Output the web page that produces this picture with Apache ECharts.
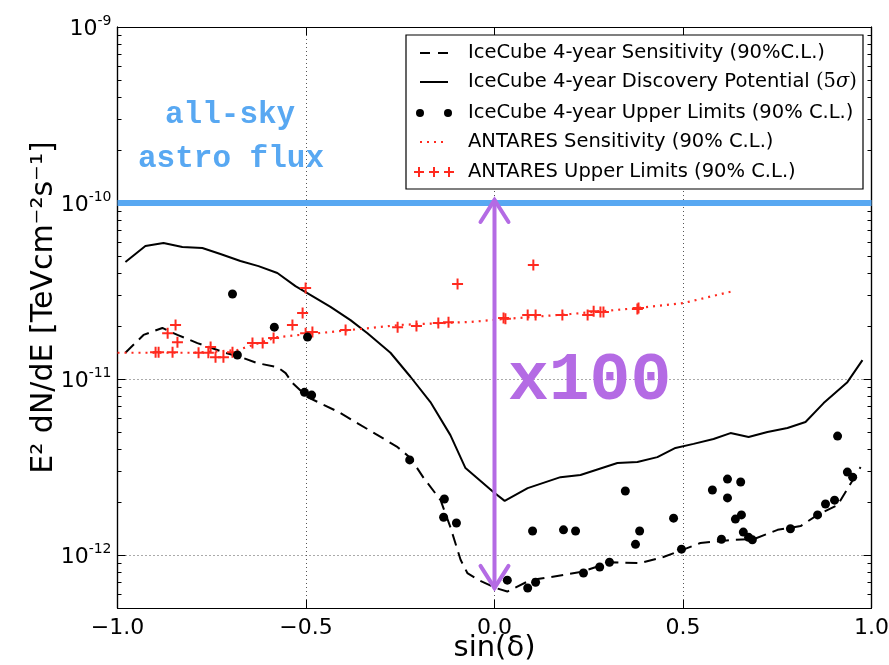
<!DOCTYPE html>
<html><head><meta charset="utf-8">
<script src="https://cdn.jsdelivr.net/npm/echarts@6/dist/echarts.min.js"></script>
<style>html,body{margin:0;padding:0;background:#fff}#c{width:889px;height:665px}</style>
</head><body><div id="c"></div>
<script>
// ---- data (x = sin(delta), y = E^2 dN/dE in TeV cm^-2 s^-1) ----
const icSensitivity = [[-0.979,1.41e-11],[-0.931,1.78e-11],[-0.881,1.95e-11],[-0.841,1.78e-11],[-0.788,1.60e-11],[-0.714,1.41e-11],[-0.668,1.32e-11],[-0.629,1.23e-11],[-0.576,1.17e-11],[-0.554,1.08e-11],[-0.536,9.5e-12],[-0.496,7.9e-12],[-0.414,6.5e-12],[-0.363,5.6e-12],[-0.310,4.8e-12],[-0.257,4.1e-12],[-0.223,3.56e-12],[-0.188,2.74e-12],[-0.143,2.05e-12],[-0.117,1.44e-12],[-0.090,9.4e-13],[-0.072,7.9e-13],[-0.042,7.2e-13],[0.003,6.5e-13],[0.034,6.2e-13],[0.095,7.2e-13],[0.149,7.5e-13],[0.228,8.0e-13],[0.308,9.1e-13],[0.387,9.0e-13],[0.448,9.75e-13],[0.499,1.07e-12],[0.546,1.17e-12],[0.634,1.22e-12],[0.687,1.23e-12],[0.751,1.39e-12],[0.812,1.46e-12],[0.857,1.69e-12],[0.910,1.92e-12],[0.971,3.16e-12]];
const icDiscovery = [[-0.979,4.62e-11],[-0.926,5.70e-11],[-0.878,5.93e-11],[-0.828,5.62e-11],[-0.775,5.55e-11],[-0.727,5.13e-11],[-0.674,4.68e-11],[-0.626,4.38e-11],[-0.576,4.0e-11],[-0.528,3.37e-11],[-0.483,2.96e-11],[-0.435,2.57e-11],[-0.382,2.16e-11],[-0.337,1.82e-11],[-0.276,1.41e-11],[-0.223,1.03e-11],[-0.170,7.4e-12],[-0.117,4.8e-12],[-0.077,3.12e-12],[-0.003,2.28e-12],[0.027,2.03e-12],[0.088,2.40e-12],[0.175,2.77e-12],[0.228,2.85e-12],[0.326,3.33e-12],[0.379,3.38e-12],[0.432,3.6e-12],[0.480,4.06e-12],[0.528,4.28e-12],[0.581,4.56e-12],[0.626,4.93e-12],[0.674,4.68e-12],[0.724,5.0e-12],[0.777,5.27e-12],[0.825,5.70e-12],[0.873,7.3e-12],[0.936,9.6e-12],[0.976,1.28e-11]];
const icUpperLimits = [[-0.695,3.04e-11],[-0.584,1.97e-11],[-0.496,1.73e-11],[-0.682,1.37e-11],[-0.504,8.4e-12],[-0.485,8.1e-12],[-0.225,3.47e-12],[-0.133,2.08e-12],[-0.135,1.64e-12],[-0.101,1.52e-12],[0.034,7.2e-13],[0.088,6.5e-13],[0.109,7.0e-13],[0.101,1.37e-12],[0.183,1.39e-12],[0.215,1.37e-12],[0.236,7.9e-13],[0.279,8.55e-13],[0.305,9.1e-13],[0.347,2.31e-12],[0.385,1.37e-12],[0.374,1.15e-12],[0.475,1.62e-12],[0.496,1.08e-12],[0.578,2.34e-12],[0.618,2.70e-12],[0.653,2.60e-12],[0.618,2.11e-12],[0.655,1.69e-12],[0.639,1.60e-12],[0.602,1.23e-12],[0.660,1.35e-12],[0.674,1.26e-12],[0.684,1.22e-12],[0.785,1.41e-12],[0.857,1.69e-12],[0.878,1.95e-12],[0.902,2.05e-12],[0.910,4.74e-12],[0.936,2.96e-12],[0.950,2.77e-12]];
const antSensitivity = [[-1.0,1.41e-11],[-0.798,1.41e-11],[-0.682,1.46e-11],[-0.576,1.73e-11],[-0.469,1.82e-11],[-0.249,2.03e-11],[-0.064,2.11e-11],[0.024,2.19e-11],[0.202,2.34e-11],[0.379,2.53e-11],[0.501,2.70e-11],[0.634,3.16e-11]];
const antUpperLimits = [[-0.899,1.42e-11],[-0.891,1.42e-11],[-0.854,1.42e-11],[-0.846,2.03e-11],[-0.867,1.82e-11],[-0.841,1.62e-11],[-0.785,1.41e-11],[-0.759,1.41e-11],[-0.753,1.52e-11],[-0.740,1.33e-11],[-0.719,1.33e-11],[-0.695,1.42e-11],[-0.642,1.60e-11],[-0.615,1.60e-11],[-0.586,1.71e-11],[-0.536,2.03e-11],[-0.509,2.37e-11],[-0.501,3.29e-11],[-0.501,1.82e-11],[-0.483,1.85e-11],[-0.395,1.90e-11],[-0.257,1.97e-11],[-0.207,2.0e-11],[-0.149,2.08e-11],[-0.122,2.10e-11],[-0.098,3.47e-11],[0.024,2.22e-11],[0.029,2.2e-11],[0.088,2.31e-11],[0.109,2.31e-11],[0.103,4.45e-11],[0.180,2.31e-11],[0.247,2.31e-11],[0.263,2.43e-11],[0.281,2.40e-11],[0.289,2.40e-11],[0.379,2.50e-11],[0.382,2.53e-11]];
const allSkyFlux = 1e-10;
const allSkyRange = [-1, 1];
const arrowRange = [1.04e-10, 6.5e-13];
const xTickValues = [-1, -0.5, 0, 0.5, 1];
const yMajorExponents = [-12, -11, -10, -9];
const yRange = [5e-13, 1e-9];
const legendLabels = ['IceCube 4-year Sensitivity (90%C.L.)','IceCube 4-year Discovery Potential ','IceCube 4-year Upper Limits (90% C.L.)','ANTARES Sensitivity (90% C.L.)','ANTARES Upper Limits (90% C.L.)'];

(function () {
const L = Math.log10;
const toLog = arr => arr.map(p => [p[0], L(p[1])]);
const yMin = L(yRange[0]), yMax = L(yRange[1]);
const minorTicks = [];
for (let n = -13; n <= -10; n++) for (let k = 2; k <= 9; k++) { const v = L(k) + n; if (v > yMin && v < yMax) minorTicks.push(v); }

const FONT = 'DejaVu Sans';
const RED = '#ff2a1f', BLUE = '#58a8f2', PURPLE = '#b46be4';
const gridLine = {show: true, lineStyle: {color: '#555', type: [1, 3], width: 1}};
const baseY = (pos, custom, len, labels, split) => ({
  type: 'value', position: pos, min: yMin, max: yMax, gridIndex: 0,
  axisLine: {show: true, onZero: false, lineStyle: {color: '#000', width: 1.2}},
  axisTick: {show: true, inside: true, length: len, customValues: custom, lineStyle: {color: '#000', width: 1}},
  axisLabel: labels ? {show: true, customValues: yMajorExponents, margin: 6,
      formatter: v => '{b|10}{s|' + Math.round(v) + '}',
      rich: {b: {fontSize: 22, fontFamily: FONT, color: '#000', lineHeight: 26, verticalAlign: 'bottom'},
             s: {fontSize: 14, fontFamily: FONT, color: '#000', lineHeight: 26, verticalAlign: 'top', padding: [0, 0, 8, 0]}}}
    : {show: false},
  splitLine: split ? gridLine : {show: false}
});

const chart = echarts.init(document.getElementById('c'), null, {renderer: 'canvas'});
const option = {
  animation: false,
  backgroundColor: '#fff',
  grid: {left: 117.5, right: 17.5, top: 27, bottom: 57, containLabel: false, outerBoundsMode: 'none'},
  xAxis: [
    {type: 'value', position: 'bottom', min: -1, max: 1, interval: 0.5,
     name: 'sin(δ)', nameLocation: 'middle', nameGap: 26, nameMoveOverlap: false,
     nameTextStyle: {fontSize: 29, fontFamily: FONT, color: '#000', verticalAlign: 'top'},
     axisLine: {show: true, onZero: false, lineStyle: {color: '#000', width: 1.2}},
     axisTick: {show: true, inside: true, length: 8, lineStyle: {color: '#000'}},
     axisLabel: {show: true, margin: 9, fontSize: 22, fontFamily: FONT, color: '#000',
       formatter: v => (v < 0 ? '\u2212' : '') + Math.abs(v).toFixed(1)},
     splitLine: gridLine},
    {type: 'value', position: 'top', min: -1, max: 1, interval: 0.5,
     axisLine: {show: true, onZero: false, lineStyle: {color: '#000', width: 1.2}},
     axisTick: {show: true, inside: true, length: 8, lineStyle: {color: '#000'}},
     axisLabel: {show: false}, splitLine: {show: false}}
  ],
  yAxis: [
    Object.assign(baseY('left', yMajorExponents, 8, true, true), {
      name: 'E² dN/dE [TeVcm⁻²s⁻¹]', nameLocation: 'middle', nameGap: 58, nameMoveOverlap: false,
      nameTextStyle: {fontSize: 30, fontFamily: FONT, color: '#000', padding: [0, 0, 0, 20]}}),
    baseY('left', minorTicks, 4, false, false),
    baseY('right', yMajorExponents, 8, false, false),
    baseY('right', minorTicks, 4, false, false)
  ],
  series: [
    {type: 'line', name: 'allsky', data: [[allSkyRange[0], L(allSkyFlux)], [allSkyRange[1], L(allSkyFlux)]],
     symbol: 'none', lineStyle: {color: BLUE, width: 6}, z: 3, silent: true},
    {type: 'line', name: legendLabels[0], data: toLog(icSensitivity), symbol: 'none',
     lineStyle: {color: '#000', width: 2, type: [12, 7]}, z: 4},
    {type: 'line', name: legendLabels[1], data: toLog(icDiscovery), symbol: 'none',
     lineStyle: {color: '#000', width: 2}, z: 4},
    {type: 'line', name: legendLabels[3], data: toLog(antSensitivity), symbol: 'none',
     lineStyle: {color: RED, width: 2.2, type: [2, 5]}, z: 4},
    {type: 'scatter', name: legendLabels[4], data: toLog(antUpperLimits),
     symbol: 'path://M0,5L10,5M5,0L5,10', symbolSize: 11,
     itemStyle: {color: 'none', borderColor: RED, borderWidth: 2, opacity: 1}, z: 5},
    {type: 'scatter', name: legendLabels[2], data: toLog(icUpperLimits),
     symbol: 'circle', symbolSize: 9, itemStyle: {color: '#000', opacity: 1}, z: 6}
  ]
};
chart.setOption(option);

// ---- annotations & legend ----
const px = (x, y) => chart.convertToPixel({gridIndex: 0}, [x, L(y)]);
const aTop = px(0, arrowRange[0]), aBot = px(0, arrowRange[1]);
const aS = {stroke: PURPLE, lineWidth: 4, lineCap: 'round', fill: null};
const g = [
  {type: 'line', shape: {x1: aTop[0], y1: aTop[1], x2: aBot[0], y2: aBot[1]}, style: aS, z: 20},
  {type: 'polyline', shape: {points: [[aTop[0]-14, aTop[1]+22], [aTop[0], aTop[1]], [aTop[0]+14, aTop[1]+22]]}, style: aS, z: 20},
  {type: 'polyline', shape: {points: [[aBot[0]-14, aBot[1]-22], [aBot[0], aBot[1]], [aBot[0]+14, aBot[1]-22]]}, style: aS, z: 20},
  {type: 'text', x: 508, y: 348, style: {text: 'x100', fill: PURPLE, font: 'bold 68px "Liberation Mono"'}, z: 20},
  {type: 'text', x: 165, y: 100, style: {text: 'all-sky', fill: BLUE, font: 'bold 31px "Liberation Mono"'}, z: 20},
  {type: 'text', x: 138, y: 144, style: {text: 'astro flux', fill: BLUE, font: 'bold 31px "Liberation Mono"'}, z: 20}
];
const LX = 406, LY = 35, LW = 457, LH = 154, rowY = [53, 82, 113, 142, 172], tx = 468;
g.push({type: 'rect', shape: {x: LX, y: LY, width: LW, height: LH}, style: {fill: '#fff', stroke: '#000', lineWidth: 1.2}, z: 30});
g.push({type: 'line', shape: {x1: 420, y1: rowY[0], x2: 430, y2: rowY[0]}, style: {stroke: '#000', lineWidth: 2}, z: 31});
g.push({type: 'line', shape: {x1: 438, y1: rowY[0], x2: 448, y2: rowY[0]}, style: {stroke: '#000', lineWidth: 2}, z: 31});
g.push({type: 'line', shape: {x1: 420, y1: rowY[1], x2: 448, y2: rowY[1]}, style: {stroke: '#000', lineWidth: 2}, z: 31});
g.push({type: 'circle', shape: {cx: 420, cy: rowY[2], r: 4}, style: {fill: '#000'}, z: 31});
g.push({type: 'circle', shape: {cx: 448, cy: rowY[2], r: 4}, style: {fill: '#000'}, z: 31});
g.push({type: 'line', shape: {x1: 420, y1: rowY[3], x2: 448, y2: rowY[3]}, style: {stroke: RED, lineWidth: 2, lineDash: [2, 5]}, z: 31});
[419, 434, 449].forEach(cx => {
  g.push({type: 'line', shape: {x1: cx-5, y1: rowY[4], x2: cx+5, y2: rowY[4]}, style: {stroke: RED, lineWidth: 2}, z: 31});
  g.push({type: 'line', shape: {x1: cx, y1: rowY[4]-5, x2: cx, y2: rowY[4]+5}, style: {stroke: RED, lineWidth: 2}, z: 31});
});
legendLabels.forEach((t, i) => {
  g.push({type: 'text', x: tx, y: rowY[i], z: 31,
    style: i === 1
      ? {text: '{a|' + t + '}{c|(5}{b|σ}{c|)}', verticalAlign: 'middle',
         rich: {a: {fontSize: 19.5, fontFamily: FONT, fill: '#000'},
                c: {fontSize: 19.5, fontFamily: 'DejaVu Serif', fill: '#000'},
                b: {fontSize: 19.5, fontFamily: 'DejaVu Serif', fontStyle: 'italic', fill: '#000'}}}
      : {text: t, fontSize: 19.5, fontFamily: FONT, fill: '#000', verticalAlign: 'middle'}});
});
chart.setOption({graphic: g});
})();
</script></body></html>
